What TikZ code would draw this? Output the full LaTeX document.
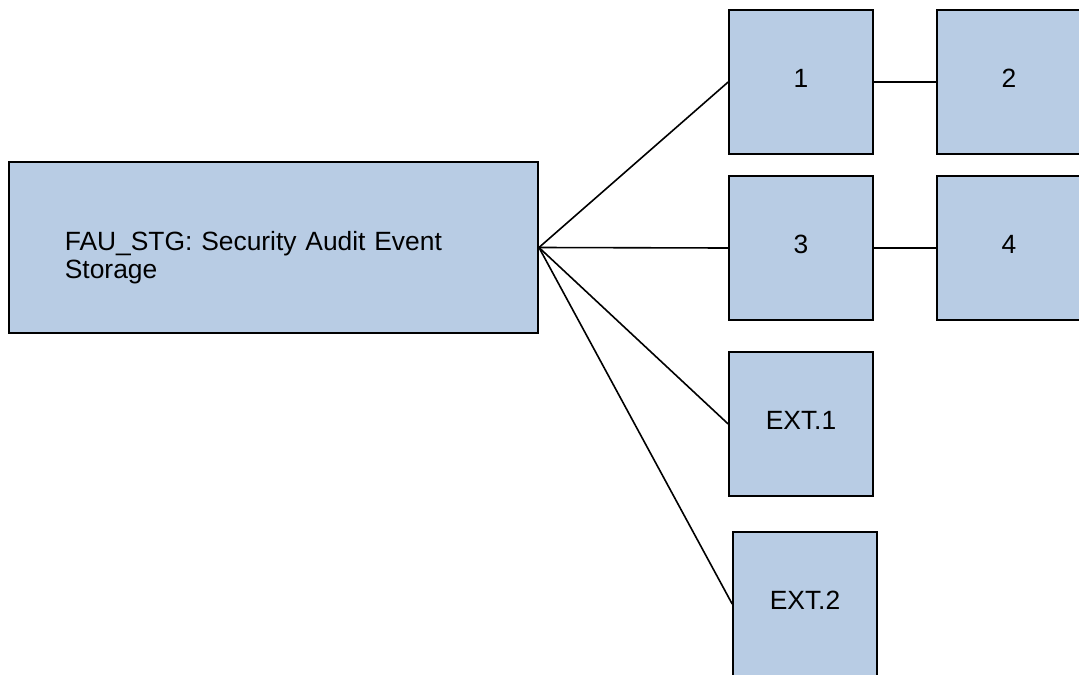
\documentclass[tikz,border=0pt]{standalone}
\usepackage{fontspec}
\setmainfont{Liberation Sans}
\definecolor{cajaazul}{HTML}{B8CCE4}
\begin{document}
\begin{tikzpicture}[x=0.75pt, y=-0.75pt, line width=1.2pt, line join=miter,
    caja/.style={draw=black, fill=cajaazul, minimum width=108pt, minimum height=108pt,
      inner sep=0pt, text depth=5.25pt, font=\fontsize{19.8}{23}\selectfont},
    grande/.style={caja, minimum width=396.75pt, minimum height=128.25pt,
      align=left, text width=313pt, inner xsep=42pt, text height=33.75pt,
      text depth=30pt, font=\fontsize{19.8}{21}\selectfont}]
  \useasboundingbox (0,0) rectangle (1079,675);
  % la caja grande
  \node[grande] (fau) at (273.5,247.5) {FAU\_STG: Security Audit Event\\Storage};
  % las cajas pequeñas
  \node[caja] (uno) at (801,82) {1};
  \node[caja] (dos) at (1009,82) {2};
  \node[caja] (tres) at (801,248) {3};
  \node[caja] (cuatro) at (1009,248) {4};
  \node[caja] (ext1) at (801,424) {EXT.1};
  \node[caja] (ext2) at (805,604) {EXT.2};
  % las lineas
  \draw (fau.east) -- (uno.west);
  \draw (fau.east) -- (tres.west);
  \draw (fau.east) -- (ext1.west);
  \draw (fau.east) -- (ext2.west);
  \draw (uno.east) -- (dos.west);
  \draw (tres.east) -- (cuatro.west);
\end{tikzpicture}
\end{document}
